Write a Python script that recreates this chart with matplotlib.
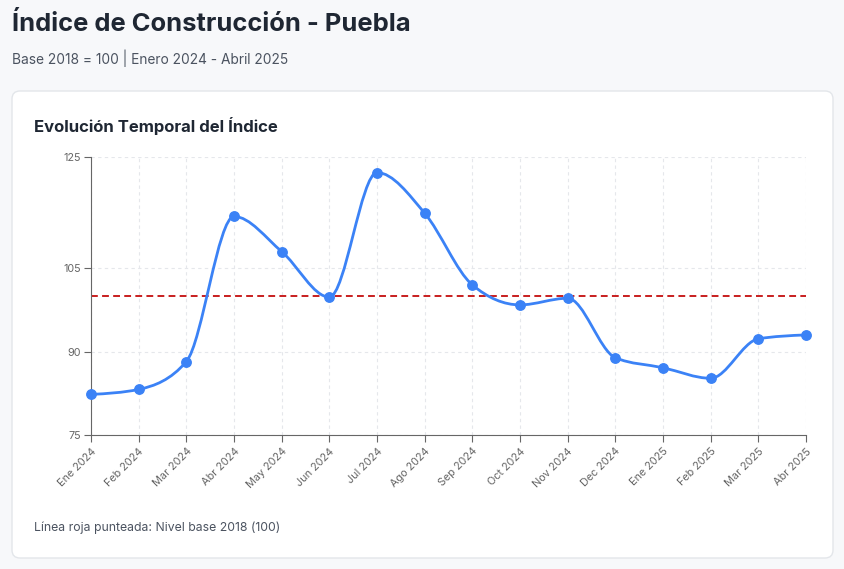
import numpy as np
import matplotlib
matplotlib.use("Agg")
import matplotlib.pyplot as plt
from matplotlib.path import Path
from matplotlib.patches import PathPatch, FancyBboxPatch
from matplotlib.transforms import IdentityTransform

plt.rcParams["font.family"] = ["Inter", "DejaVu Sans"]

# ---- data ----
months = ["Ene 2024", "Feb 2024", "Mar 2024", "Abr 2024", "May 2024", "Jun 2024",
          "Jul 2024", "Ago 2024", "Sep 2024", "Oct 2024", "Nov 2024", "Dec 2024",
          "Ene 2025", "Feb 2025", "Mar 2025", "Abr 2025"]
index_vals = [82.3, 83.2, 88.2, 114.3, 108.0, 99.8, 122.2, 114.9,
              102.0, 98.4, 99.6, 88.9, 87.1, 85.2, 92.3, 93.0]
base_level = 100
y_ticks = [75, 90, 105, 125]

BLUE = "#3b82f6"
RED = "#c81e1e"
GRID = "#e5e7eb"
AXIS = "#666666"


def monotone_path(x, y):
    """d3 curveMonotoneX as cubic bezier path."""
    x = np.asarray(x, float)
    y = np.asarray(y, float)
    n = len(x)
    t = np.zeros(n)
    for i in range(1, n - 1):
        h0, h1 = x[i] - x[i - 1], x[i + 1] - x[i]
        s0, s1 = (y[i] - y[i - 1]) / h0, (y[i + 1] - y[i]) / h1
        p = (s0 * h1 + s1 * h0) / (h0 + h1)
        t[i] = (np.sign(s0) + np.sign(s1)) * min(abs(s0), abs(s1), 0.5 * abs(p))
    h = x[1] - x[0]
    t[0] = (3 * (y[1] - y[0]) / h - t[1]) / 2
    h = x[-1] - x[-2]
    t[-1] = (3 * (y[-1] - y[-2]) / h - t[-2]) / 2
    verts = [(x[0], y[0])]
    codes = [Path.MOVETO]
    for i in range(n - 1):
        dx = (x[i + 1] - x[i]) / 3
        verts += [(x[i] + dx, y[i] + dx * t[i]),
                  (x[i + 1] - dx, y[i + 1] - dx * t[i + 1]),
                  (x[i + 1], y[i + 1])]
        codes += [Path.CURVE4] * 3
    return Path(verts, codes)


W, H = 845, 569
fig = plt.figure(figsize=(W / 100, H / 100), dpi=100)
fig.patch.set_facecolor("#f7f8fa")

# card
card = FancyBboxPatch((12, H - 558), 821, 467, boxstyle="round,pad=0,rounding_size=8",
                      transform=IdentityTransform(), facecolor="white",
                      edgecolor="#e3e6ea", linewidth=1.0, zorder=-5)
fig.patches.append(card)

fig.text(12 / W, 1 - 24 / H, "Índice de Construcción - Puebla", fontsize=18.4,
         fontweight="bold", color="#1f2733", va="center", ha="left")
fig.text(12 / W, 1 - 58 / H, "Base 2018 = 100 | Enero 2024 - Abril 2025", fontsize=9.9,
         color="#4b5360", va="center", ha="left")
fig.text(34 / W, 1 - 126 / H, "Evolución Temporal del Índice", fontsize=12.0,
         fontweight="bold", color="#1f2733", va="center", ha="left")
fig.text(34 / W, 1 - 528 / H, "Línea roja punteada: Nivel base 2018 (100)", fontsize=8.8,
         color="#4b5360", va="center", ha="left")

ax = fig.add_axes([91 / W, (H - 435) / H, 715 / W, 278 / H])
ax.set_zorder(2)
ax.set_facecolor("none")
x = np.arange(len(months))

ax.set_xlim(0, len(months) - 1)
ax.set_ylim(75, 125)
ax.set_xticks(x)
ax.set_xticklabels(months, rotation=45, ha="right", va="top", rotation_mode="anchor",
                   fontsize=7.8, color=AXIS)
ax.set_yticks(y_ticks)
ax.set_yticklabels([str(v) for v in y_ticks], fontsize=7.8, color=AXIS)
ax.tick_params(axis="both", length=5, width=0.8, color=AXIS, pad=2)
ax.tick_params(axis="x", pad=3)

for s in ["top", "right"]:
    ax.spines[s].set_visible(False)
for s in ["left", "bottom"]:
    ax.spines[s].set_color(AXIS)
    ax.spines[s].set_linewidth(0.8)

ax.grid(True, color=GRID, linestyle=(0, (3, 3)), linewidth=0.8)
ax.set_axisbelow(True)

ax.axhline(base_level, color=RED, linestyle=(0, (3.5, 2.2)), linewidth=1.4, zorder=2)

ax.add_patch(PathPatch(monotone_path(x, index_vals), facecolor="none", edgecolor=BLUE,
                       linewidth=2.0, zorder=3, capstyle="round", clip_on=False))
ax.plot(x, index_vals, linestyle="none", marker="o", markersize=6.8, color=BLUE,
        zorder=4, clip_on=False)

fig.savefig("out.png", dpi=100, facecolor=fig.get_facecolor())
